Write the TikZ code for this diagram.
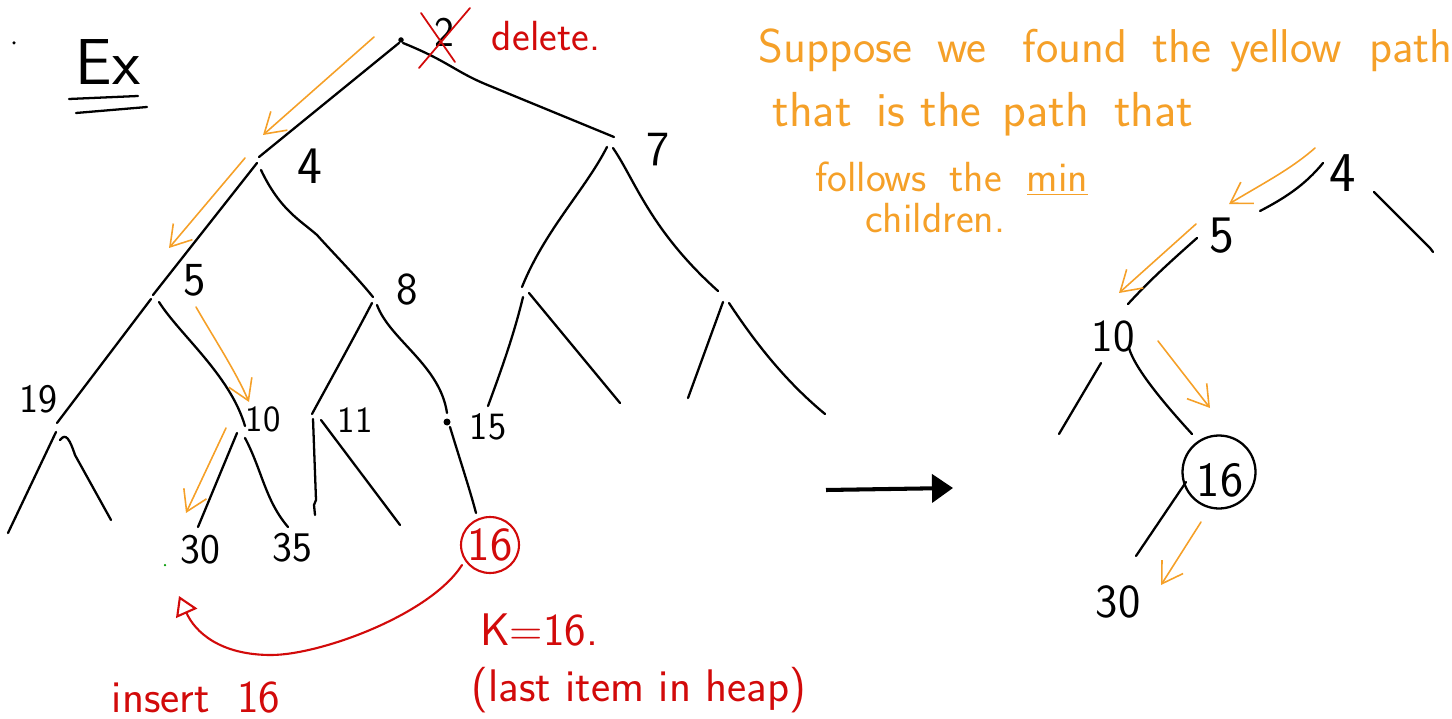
\documentclass[tikz,border=0pt]{standalone}
\usepackage{fontspec}
\usetikzlibrary{arrows.meta}
\definecolor{hlorange}{RGB}{245,160,40}
\definecolor{inkred}{RGB}{210,10,10}
\newcommand{\fsz}[1]{\sffamily\fontsize{#1}{#1}\selectfont}
\newcommand{\wgap}[1]{\hspace{#1}}
\begin{document}
\begin{tikzpicture}[x=0.02cm,y=-0.02cm,
  edge/.style={line width=1.3pt,line cap=round},
  minpath/.style={hlorange,line width=0.9pt,line cap=round,-{Straight Barb[length=0.4cm,width=0.5cm]}},
  redink/.style={inkred,line width=1pt,line cap=round},
  lbl/.style={inner sep=0pt},
  note/.style={hlorange,inner sep=0pt,anchor=base west},
  rnote/.style={inkred,inner sep=0pt}
]
\useasboundingbox (0,0) rectangle (1452,719);

% ---------- coordinates: left tree ----------
\coordinate (r) at (401,40);
\coordinate (rl) at (399,43);   \coordinate (n4t) at (259,157);
\coordinate (rr) at (403,43);   \coordinate (n7t) at (614,137);
\coordinate (n4l) at (257,163); \coordinate (n5t) at (153,295);
\coordinate (n4r) at (261,170); \coordinate (n8t) at (373,297);
\coordinate (n5l) at (151,299); \coordinate (n19t) at (57,423);
\coordinate (n5r) at (159,302); \coordinate (n10t) at (245,426);
\coordinate (n8l) at (372,303); \coordinate (n11t) at (312,414);
\coordinate (n8r) at (377,305); \coordinate (n15t) at (447,413);
\coordinate (n15) at (447,422);
\coordinate (n15b) at (450,427); \coordinate (k16t) at (476,513);
\coordinate (n19l) at (56,432);  \coordinate (a19l) at (8,533);
\coordinate (n19r) at (60,440);  \coordinate (a19r) at (111,520);
\coordinate (n10l) at (237,433); \coordinate (a30) at (198,527);
\coordinate (n10r) at (245,438); \coordinate (a35) at (288,527);
\coordinate (n11l) at (313,419); \coordinate (a11l) at (315,515);
\coordinate (n11r) at (321,420); \coordinate (a11r) at (400,525);
\coordinate (n7l) at (607,147);  \coordinate (m1t) at (522,287);
\coordinate (n7r) at (613,148);  \coordinate (m2t) at (718,291);
\coordinate (m1l) at (523,297);  \coordinate (b1) at (488,406);
\coordinate (m1r) at (529,293);  \coordinate (b2) at (620,403);
\coordinate (m2l) at (723,302);  \coordinate (b3) at (688,398);
\coordinate (m2r) at (729,303);  \coordinate (b4) at (825,414);

% ---------- edges: left tree ----------
\fill (r) circle (0.055cm);
\draw[edge] (rl) -- (n4t);
\draw[edge] (rr) .. controls (450,62) and (455,72) .. (490,86) -- (n7t);
\draw[edge] (n4l) -- (n5t);
\draw[edge] (n4r) .. controls (280,210) and (300,220) .. (317,235) .. controls (335,255) and (355,275) .. (n8t);
\draw[edge] (n5l) -- (n19t);
\draw[edge] (n5r) .. controls (180,335) and (230,375) .. (n10t);
\draw[edge] (n8l) .. controls (350,345) and (325,390) .. (n11t);
\draw[edge] (n8r) .. controls (390,340) and (440,365) .. (n15t);
\fill (n15) circle (0.07cm);
\draw[edge] (n15b) .. controls (460,460) and (470,490) .. (k16t);
\draw[edge] (n19l) -- (a19l);
\draw[edge] (n19r) .. controls (66,432) and (70,440) .. (75,455) -- (a19r);
\draw[edge] (n10l) -- (a30);
\draw[edge] (n10r) .. controls (262,470) and (265,500) .. (a35);
\draw[edge] (n11l) -- (316,500) -- (314,505) -- (a11l);
\draw[edge] (n11r) -- (a11r);
\draw[edge] (n7l) .. controls (585,190) and (545,230) .. (m1t);
\draw[edge] (n7r) .. controls (635,180) and (650,230) .. (m2t);
\draw[edge] (m1l) .. controls (515,330) and (505,360) .. (b1);
\draw[edge] (m1r) -- (b2);
\draw[edge] (m2l) -- (b3);
\draw[edge] (m2r) .. controls (760,350) and (790,385) .. (b4);

% ---------- orange arrows: left tree ----------
\coordinate (o1s) at (374,37);  \coordinate (o1e) at (263,135);
\coordinate (o2s) at (245,158); \coordinate (o2e) at (169,248);
\coordinate (o3s) at (196,307); \coordinate (o3e) at (249,402);
\coordinate (o4s) at (226,428); \coordinate (o4e) at (186,513);
\draw[minpath] (o1s) -- (o1e);
\draw[minpath] (o2s) -- (o2e);
\draw[minpath] (o3s) .. controls (215,340) and (235,370) .. (o3e);
\draw[minpath] (o4s) -- (o4e);

% ---------- labels: left tree ----------
\node[lbl,font=\fsz{24}] (l2) at (444,32) {2};
\draw[redink] (470,8) -- (419,68);
\draw[redink] (421,13) -- (455,62);
\node[rnote,font=\fsz{24}] (del) at (546,36) {delete.};
\node[lbl,font=\fsz{30}] (l4) at (310,166) {4};
\node[lbl,font=\fsz{28}] (l7) at (658,150) {7};
\node[lbl,font=\fsz{27}] (l5) at (195,280) {5};
\node[lbl,font=\fsz{26}] (l8) at (407,290) {8};
\node[lbl,font=\fsz{23}] (l19) at (38,399) {19};
\node[lbl,font=\fsz{21}] (l10) at (263,419) {10};
\node[lbl,font=\fsz{21}] (l11) at (355,420) {11};
\node[lbl,font=\fsz{22}] (l15) at (488,427) {15};
\node[lbl,font=\fsz{24}] (l30) at (200,550) {30};
\node[lbl,font=\fsz{24}] (l35) at (292,548) {35};
\node[lbl,inkred,font=\fsz{27}] (k16) at (490,545) {16};
\draw[redink,line width=1.2pt] (k16.center) ellipse [x radius=0.58cm, y radius=0.56cm];

% ---------- Ex ----------
\fill (14,43) circle (0.035cm);
\node[lbl,font=\fsz{37}] (ex) at (108,62) {Ex};
\coordinate (u1a) at (69,99);  \coordinate (u1b) at (138,96);
\coordinate (u2a) at (76,113); \coordinate (u2b) at (147,107);
\draw[edge] (u1a) -- (u1b);
\draw[edge] (u2a) -- (u2b);
\fill[green!60!black] (165,565) circle (0.025cm);

% ---------- red insertion arrow and notes ----------
\coordinate (ins) at (179,596);
\coordinate (cst) at (462,565);
\draw[redink,line width=1.2pt,-{Triangle[open,length=0.38cm,width=0.46cm]}] (cst) .. controls (430,615) and (320,655) .. (271,655) .. controls (220,655) and (195,632) .. (ins);
\node[rnote,font=\fsz{26}] (insert) at (196,698) {insert\hspace{0.6em}16};
\node[rnote,font=\fsz{26}] (keq) at (539,630) {K=16.};
\node[rnote,font=\fsz{26}] (last) at (639,690) {(last item in heap)};

% ---------- middle arrow ----------
\coordinate (ma) at (826,490);
\coordinate (mb) at (953,488);
\draw[line width=2.3pt,-{Triangle[length=0.42cm,width=0.56cm]}] (ma) -- (mb);

% ---------- orange explanation ----------
\node[note,font=\fsz{27}] (t1) at (758,63) {Suppose\wgap{0.5cm}we\wgap{0.72cm}found\wgap{0.5cm}the\wgap{0.38cm}yellow\wgap{0.55cm}path};
\node[note,font=\fsz{28}] (t2) at (772,127) {that\wgap{0.5cm}is\wgap{0.3cm}the\wgap{0.42cm}path\wgap{0.5cm}that};
\node[note,font=\fsz{24}] (t3) at (815,192) {follows\wgap{0.45cm}the\wgap{0.5cm}\underline{min}};
\node[note,font=\fsz{24}] (t4) at (865,233) {children.};

% ---------- right tree ----------
\node[lbl,font=\fsz{32}] (r4) at (1343,173) {4};
\node[lbl,font=\fsz{30}] (r5) at (1222,236) {5};
\node[lbl,font=\fsz{26}] (r10) at (1113,337) {10};
\node[lbl,font=\fsz{28}] (r16) at (1220,480) {16};
\node[lbl,font=\fsz{27}] (r30) at (1118,602) {30};
\draw[edge] (1219,472) circle (0.73cm);
\coordinate (s4l) at (1323,163); \coordinate (s5t) at (1260,211);
\coordinate (s4r) at (1374,192); \coordinate (s4re) at (1433,252);
\coordinate (s5l) at (1197,238); \coordinate (s10t) at (1128,304);
\coordinate (s10l) at (1101,363); \coordinate (s10le) at (1059,434);
\coordinate (s10r) at (1129,348); \coordinate (s16t) at (1192,434);
\coordinate (s16l) at (1186,482); \coordinate (s30t) at (1136,556);
\draw[edge] (s4l) .. controls (1305,185) and (1285,198) .. (s5t);
\draw[edge] (s4r) -- (1430,248) -- (s4re);
\draw[edge] (s5l) .. controls (1170,262) and (1150,280) .. (s10t);
\draw[edge] (s10l) -- (s10le);
\draw[edge] (s10r) .. controls (1135,370) and (1170,410) .. (s16t);
\draw[edge] (s16l) -- (s30t);
\coordinate (p1s) at (1315,148); \coordinate (p1e) at (1229,204);
\coordinate (p2s) at (1196,224); \coordinate (p2e) at (1119,293);
\coordinate (p3s) at (1158,341); \coordinate (p3e) at (1210,408);
\coordinate (p4s) at (1201,522); \coordinate (p4e) at (1161,585);
\draw[minpath] (p1s) .. controls (1290,170) and (1260,185) .. (p1e);
\draw[minpath] (p2s) -- (p2e);
\draw[minpath] (p3s) -- (p3e);
\draw[minpath] (p4s) -- (p4e);
\end{tikzpicture}
\end{document}
